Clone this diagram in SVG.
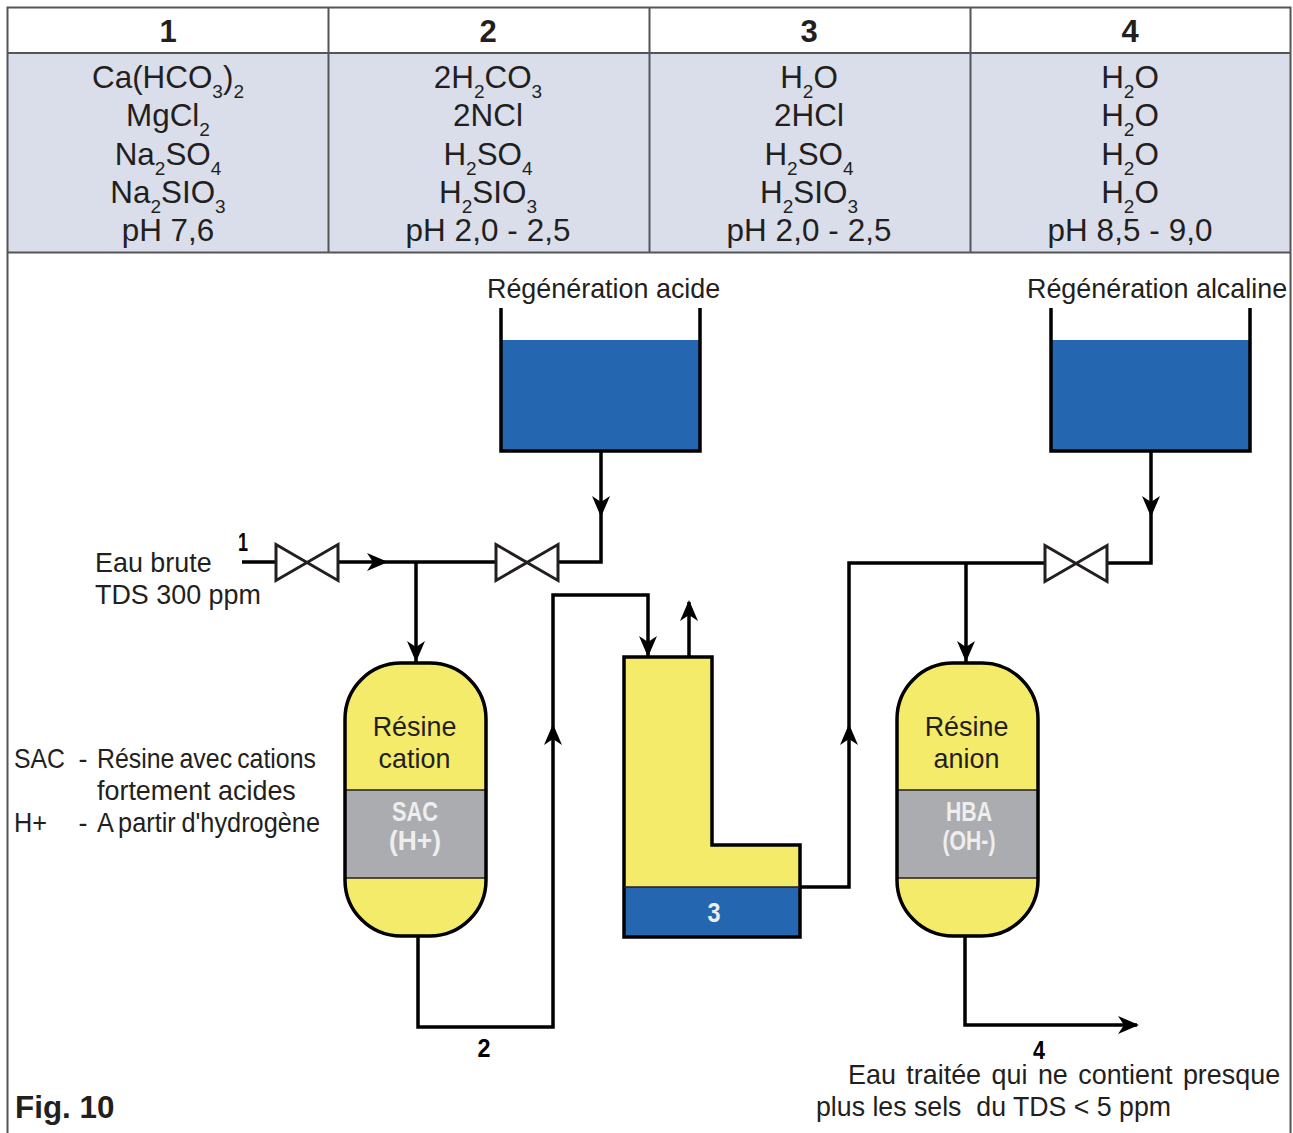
<svg xmlns="http://www.w3.org/2000/svg" width="1293" height="1133" viewBox="0 0 1293 1133">
<style>
text{font-family:"Liberation Sans",Arial,sans-serif;fill:#231f20}
.f{font-size:31.4px;text-anchor:middle}
.s{font-size:19px}
.h{font-size:31px;font-weight:bold;text-anchor:middle}
.b{font-size:26.9px}
.m{text-anchor:middle}
.n{font-size:25px;font-weight:bold;text-anchor:middle;fill:#000}
.w{font-size:27px;font-weight:bold;text-anchor:middle;fill:#eeeeef}
.p{fill:none;stroke:#000;stroke-width:3.5}
.v{fill:#fff;stroke:#231f20;stroke-width:3}
.y{fill:#f5eb6b}
.g{fill:#abacaf}
.u{fill:#2566b0}
.o{fill:none;stroke:#000;stroke-width:3.5}
.t{fill:none;stroke:#555;stroke-width:2}
</style>
<defs>
<path id="ah" d="M0 0L-21 -9L-15 0L-21 9Z" fill="#000"/>
<clipPath id="v1"><rect x="345" y="663" width="141" height="273" rx="56" ry="56"/></clipPath>
<clipPath id="v2"><rect x="897" y="663" width="141" height="273" rx="56" ry="56"/></clipPath>
</defs>
<g id="table">
<rect x="8" y="53" width="1282" height="199" fill="#d9deea"/>
<path class="t" d="M7.500 1133V7.500H1290.500V1133"/>
<path class="t" d="M7.500 53H1290.500M7.500 252.500H1290.500M328.500 7.500V252.500M649.500 7.500V252.500M970.500 7.500V252.500"/>
<text class="h" x="168" y="42">1</text>
<text class="h" x="488" y="42">2</text>
<text class="h" x="809" y="42">3</text>
<text class="h" x="1130" y="42">4</text>
<text class="f" x="168" y="88">Ca(HCO<tspan class="s" dy="10">3</tspan><tspan dy="-10">)</tspan><tspan class="s" dy="10">2</tspan></text>
<text class="f" x="168" y="126">MgCl<tspan class="s" dy="10">2</tspan></text>
<text class="f" x="168" y="165">Na<tspan class="s" dy="10">2</tspan><tspan dy="-10">SO</tspan><tspan class="s" dy="10">4</tspan></text>
<text class="f" x="168" y="203">Na<tspan class="s" dy="10">2</tspan><tspan dy="-10">SIO</tspan><tspan class="s" dy="10">3</tspan></text>
<text class="f" x="168" y="241">pH 7,6</text>
<text class="f" x="488" y="88">2H<tspan class="s" dy="10">2</tspan><tspan dy="-10">CO</tspan><tspan class="s" dy="10">3</tspan></text>
<text class="f" x="488" y="126">2NCl</text>
<text class="f" x="488" y="165">H<tspan class="s" dy="10">2</tspan><tspan dy="-10">SO</tspan><tspan class="s" dy="10">4</tspan></text>
<text class="f" x="488" y="203">H<tspan class="s" dy="10">2</tspan><tspan dy="-10">SIO</tspan><tspan class="s" dy="10">3</tspan></text>
<text class="f" x="488" y="241" textLength="165">pH 2,0 - 2,5</text>
<text class="f" x="809" y="88">H<tspan class="s" dy="10">2</tspan><tspan dy="-10">O</tspan></text>
<text class="f" x="809" y="126">2HCl</text>
<text class="f" x="809" y="165">H<tspan class="s" dy="10">2</tspan><tspan dy="-10">SO</tspan><tspan class="s" dy="10">4</tspan></text>
<text class="f" x="809" y="203">H<tspan class="s" dy="10">2</tspan><tspan dy="-10">SIO</tspan><tspan class="s" dy="10">3</tspan></text>
<text class="f" x="809" y="241" textLength="165">pH 2,0 - 2,5</text>
<text class="f" x="1130" y="88">H<tspan class="s" dy="10">2</tspan><tspan dy="-10">O</tspan></text>
<text class="f" x="1130" y="126">H<tspan class="s" dy="10">2</tspan><tspan dy="-10">O</tspan></text>
<text class="f" x="1130" y="165">H<tspan class="s" dy="10">2</tspan><tspan dy="-10">O</tspan></text>
<text class="f" x="1130" y="203">H<tspan class="s" dy="10">2</tspan><tspan dy="-10">O</tspan></text>
<text class="f" x="1130" y="241" textLength="165">pH 8,5 - 9,0</text>
</g>
<g id="connectors">
<path class="p" d="M242 562H275M339 562H495M558 562H601V451"/>
<path class="p" d="M416 562V662"/>
<path class="p" d="M418 936V1027H553V595H648V657"/>
<path class="p" d="M689 657V602"/>
<path class="p" d="M800 887H849V563H1044M1107 563H1151V451"/>
<path class="p" d="M966 563V662"/>
<path class="p" d="M965 936V1025H1137"/>
<use href="#ah" transform="translate(388 562)"/>
<use href="#ah" transform="translate(601 517) rotate(90)"/>
<use href="#ah" transform="translate(416 662) rotate(90)"/>
<use href="#ah" transform="translate(553 724) rotate(-90)"/>
<use href="#ah" transform="translate(648 657) rotate(90)"/>
<use href="#ah" transform="translate(689 600) rotate(-90)"/>
<use href="#ah" transform="translate(849 724) rotate(-90)"/>
<use href="#ah" transform="translate(966 662) rotate(90)"/>
<use href="#ah" transform="translate(1151 517) rotate(90)"/>
<use href="#ah" transform="translate(1139 1025)"/>
</g>
<g id="valve-1"><path class="v" d="M276 544.500L338 580.500V544.500L276 580.500Z"/></g>
<g id="valve-2"><path class="v" d="M496 544.500L558 580.500V544.500L496 580.500Z"/></g>
<g id="valve-3"><path class="v" d="M1045 545.500L1107 581.500V545.500L1045 581.500Z"/></g>
<g id="tank-acid">
<rect class="u" x="501" y="340" width="199" height="111"/>
<path class="o" d="M501 308V451H700V308"/>
<text class="b" x="487" y="298">Régénération acide</text>
</g>
<g id="tank-alkaline">
<rect class="u" x="1051" y="340" width="199" height="111"/>
<path class="o" d="M1051 308V451H1250V308"/>
<text class="b" x="1027" y="298">Régénération alcaline</text>
</g>
<g id="vessel-cation">
<g clip-path="url(#v1)"><rect class="y" x="345" y="663" width="141" height="273"/><rect class="g" x="345" y="790" width="141" height="88"/></g>
<path d="M345 790H486M345 878H486" stroke="#231f20" stroke-width="1.500" fill="none"/>
<rect class="o" x="345" y="663" width="141" height="273" rx="56" ry="56"/>
<text class="b m" x="414.500" y="736">Résine</text>
<text class="b m" x="414.500" y="768">cation</text>
<text class="w" x="415" y="821" textLength="46" lengthAdjust="spacingAndGlyphs">SAC</text>
<text class="w" x="415" y="850" textLength="52" lengthAdjust="spacingAndGlyphs">(H+)</text>
</g>
<g id="vessel-anion">
<g clip-path="url(#v2)"><rect class="y" x="897" y="663" width="141" height="273"/><rect class="g" x="897" y="790" width="141" height="88"/></g>
<path d="M897 790H1038M897 878H1038" stroke="#231f20" stroke-width="1.500" fill="none"/>
<rect class="o" x="897" y="663" width="141" height="273" rx="56" ry="56"/>
<text class="b m" x="966.500" y="736">Résine</text>
<text class="b m" x="966.500" y="768">anion</text>
<text class="w" x="969" y="821" textLength="46" lengthAdjust="spacingAndGlyphs">HBA</text>
<text class="w" x="969" y="850" textLength="53" lengthAdjust="spacingAndGlyphs">(OH-)</text>
</g>
<g id="l-tank">
<path class="y" d="M624 657H712V845H800V888H624Z"/>
<rect class="u" x="624" y="887" width="176" height="50"/>
<path class="o" d="M624 657H712V845H800V937H624Z"/>
<path d="M624 887H800" stroke="#231f20" stroke-width="1.500"/>
<text class="w" x="714" y="922" textLength="13" lengthAdjust="spacingAndGlyphs">3</text>
</g>
<g id="labels">
<text class="n" x="243" y="551" textLength="10" lengthAdjust="spacingAndGlyphs">1</text>
<text class="n" x="484" y="1057" textLength="13" lengthAdjust="spacingAndGlyphs">2</text>
<text class="n" x="1039" y="1059" textLength="12" lengthAdjust="spacingAndGlyphs">4</text>
<text class="b" x="95" y="572">Eau brute</text>
<text class="b" x="95" y="604">TDS 300 ppm</text>
<text class="b" x="14" y="768" textLength="51" lengthAdjust="spacingAndGlyphs">SAC</text>
<text class="b" x="78.500" y="768">-</text>
<text class="b" x="97" y="768" textLength="219" lengthAdjust="spacingAndGlyphs" word-spacing="-2">Résine avec cations</text>
<text class="b" x="97" y="800">fortement acides</text>
<text class="b" x="14" y="832" textLength="33" lengthAdjust="spacingAndGlyphs">H+</text>
<text class="b" x="78.500" y="832">-</text>
<text class="b" x="97" y="832" textLength="223" lengthAdjust="spacingAndGlyphs" word-spacing="-1.500">A partir d'hydrogène</text>
<text class="b" x="848" y="1084" word-spacing="3">Eau traitée qui ne contient presque</text>
<text class="b" x="816" y="1116" style="white-space:pre" textLength="355" lengthAdjust="spacingAndGlyphs">plus les sels  du TDS &lt; 5 ppm</text>
<text x="15" y="1118" font-size="31.400" font-weight="bold">Fig. 10</text>
</g>
</svg>
